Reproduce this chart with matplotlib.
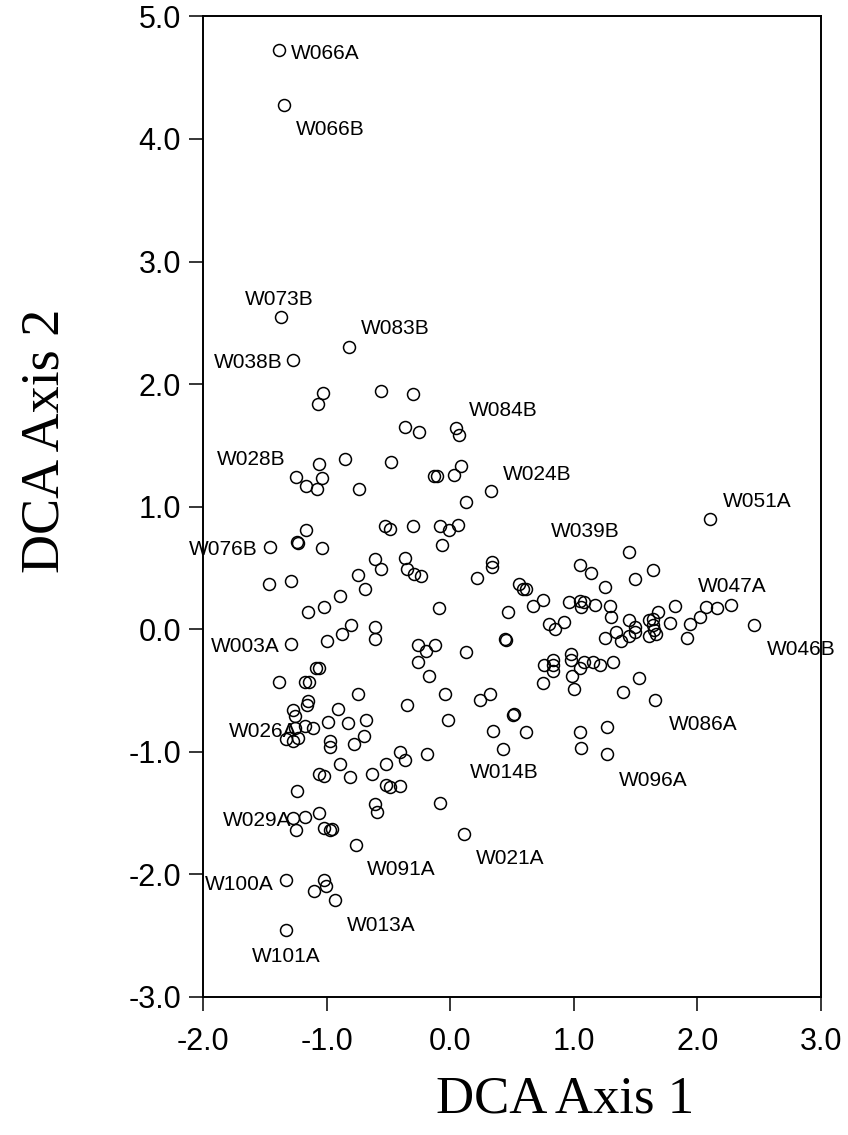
import numpy as np
import matplotlib
matplotlib.use('Agg')
import matplotlib.pyplot as plt

# DCA sample scores (axis 1, axis 2)
axis1 = [-1.39, -1.35, -1.37, -0.82, -1.27, -1.03, -1.07, -0.56, -0.30, -0.37,
         -0.25, 0.05, 0.07, -1.06, -0.85, -0.48, -1.25, -1.04, -1.17, -1.08,
         -0.74, -0.13, -0.11, 0.03, 0.09, 0.33, 0.13, -1.17, -1.24, -1.23,
         -1.46, -1.04, -0.53, -0.49, -0.30, -0.08, -0.01, 0.06, -0.07, -0.61,
         -0.56, -0.37, -0.35, -0.29, -0.24, 0.34, 0.34, 0.22, -1.47, -1.29,
         -0.75, -0.69, -0.89, -1.15, -1.02, -0.09, 0.47, -1.29, -1.00, -0.88,
         -0.80, -0.61, -0.61, -0.26, -0.20, -0.12, 0.13, 0.44, 0.45, -0.26,
         -0.17, -1.09, -1.06, -1.39, -1.18, -1.14, -0.75, -0.04, 0.24, 0.32,
         0.51, 0.35, 0.43, -1.15, -1.16, -1.27, -1.26, -0.91, -0.68, -0.35,
         -0.02, -0.99, -0.83, -1.18, -1.11, -1.26, -1.33, -1.27, -1.23, -0.70,
         -0.97, -0.97, -0.78, -0.41, -0.37, -0.19, -0.52, -0.89, -0.63, -1.06,
         -1.02, -0.81, -0.52, -0.49, -0.41, -1.24, -0.08, -0.61, -0.59, -1.27,
         -1.18, -1.06, -1.25, -1.02, -0.97, -0.96, -0.76, 0.11, -1.33, -1.02,
         -1.01, -1.10, -0.93, -1.33,
         2.10, 1.45, 1.05, 1.14, 1.64, 1.50, 1.25, 0.56, 0.59, 0.61,
         0.75, 0.67, 0.96, 1.05, 1.08, 1.06, 1.17, 1.29, 1.30, 0.80,
         0.85, 0.92, 1.25, 1.34, 1.38, 1.45, 1.45, 1.50, 1.50, 1.61,
         1.64, 1.64, 1.65, 1.61, 1.67, 1.68, 1.78, 1.82, 1.94, 1.92,
         2.02, 2.07, 2.16, 2.27, 2.46, 0.98, 0.98, 0.83, 0.83, 0.83,
         0.76, 1.05, 1.08, 1.16, 1.21, 1.32, 0.99, 0.75, 1.00, 1.40,
         1.53, 1.66, 0.52, 0.61, 1.05, 1.06, 1.27, 1.27]
axis2 = [4.73, 4.28, 2.55, 2.30, 2.20, 1.93, 1.84, 1.94, 1.92, 1.65,
         1.61, 1.64, 1.58, 1.35, 1.39, 1.36, 1.24, 1.23, 1.17, 1.14,
         1.14, 1.25, 1.25, 1.26, 1.33, 1.13, 1.04, 0.81, 0.71, 0.70,
         0.67, 0.66, 0.84, 0.82, 0.84, 0.84, 0.81, 0.85, 0.69, 0.57,
         0.49, 0.58, 0.49, 0.45, 0.43, 0.55, 0.51, 0.42, 0.37, 0.39,
         0.44, 0.33, 0.27, 0.14, 0.18, 0.17, 0.14, -0.12, -0.10, -0.04,
         0.03, 0.02, -0.08, -0.13, -0.18, -0.13, -0.19, -0.08, -0.09, -0.27,
         -0.38, -0.32, -0.32, -0.43, -0.43, -0.43, -0.53, -0.53, -0.58, -0.53,
         -0.70, -0.83, -0.98, -0.59, -0.62, -0.66, -0.71, -0.65, -0.74, -0.62,
         -0.74, -0.76, -0.77, -0.79, -0.81, -0.81, -0.90, -0.91, -0.89, -0.87,
         -0.91, -0.96, -0.94, -1.00, -1.07, -1.02, -1.10, -1.10, -1.18, -1.18,
         -1.20, -1.21, -1.27, -1.29, -1.28, -1.32, -1.42, -1.43, -1.49, -1.54,
         -1.53, -1.50, -1.64, -1.62, -1.64, -1.63, -1.76, -1.67, -2.05, -2.05,
         -2.10, -2.14, -2.21, -2.46,
         0.90, 0.63, 0.52, 0.46, 0.48, 0.41, 0.34, 0.37, 0.33, 0.33,
         0.24, 0.19, 0.22, 0.23, 0.22, 0.18, 0.20, 0.19, 0.10, 0.04,
         0.00, 0.06, -0.07, -0.02, -0.10, 0.07, -0.06, 0.02, -0.02, 0.07,
         0.08, 0.03, -0.01, -0.06, -0.04, 0.14, 0.05, 0.19, 0.04, -0.07,
         0.10, 0.18, 0.17, 0.20, 0.03, -0.20, -0.25, -0.25, -0.29, -0.34,
         -0.29, -0.32, -0.27, -0.27, -0.29, -0.27, -0.38, -0.44, -0.49, -0.51,
         -0.40, -0.58, -0.69, -0.84, -0.84, -0.97, -0.80, -1.02]

# labelled samples -> position in the score arrays
labelled = {'W066A': 0, 'W066B': 1, 'W073B': 2, 'W083B': 3, 'W038B': 4,
            'W084B': 11, 'W028B': 16, 'W024B': 25, 'W076B': 30, 'W003A': 57,
            'W014B': 82, 'W026A': 95, 'W029A': 119, 'W091A': 126, 'W021A': 127,
            'W100A': 128, 'W013A': 132, 'W101A': 133, 'W051A': 134, 'W039B': 136,
            'W047A': 177, 'W046B': 178, 'W086A': 195, 'W096A': 201}

# label placement (pixel offset from the point, horizontal alignment)
label_pos = {'W066A': (12, -4, 'left'), 'W066B': (12, -25, 'left'),
             'W073B': (-36, 17, 'left'), 'W083B': (12, 19, 'left'),
             'W038B': (-11, -3, 'right'), 'W084B': (12, 18, 'left'),
             'W028B': (-10, 18, 'right'), 'W024B': (12, 16, 'left'),
             'W076B': (-12, -3, 'right'), 'W003A': (-11, -3, 'right'),
             'W014B': (-33, -23, 'left'), 'W026A': (3, -3, 'right'),
             'W029A': (-2, -3, 'right'), 'W091A': (11, -25, 'left'),
             'W021A': (12, -25, 'left'), 'W100A': (-12, -4, 'right'),
             'W013A': (12, -26, 'left'), 'W101A': (0, -26, 'center'),
             'W051A': (13, 17, 'left'), 'W039B': (-29, 34, 'left'),
             'W047A': (-33, 18, 'left'), 'W046B': (13, -24, 'left'),
             'W086A': (14, -24, 'left'), 'W096A': (12, -26, 'left')}

sans = 'Liberation Sans'
serif = 'Liberation Serif'

fig = plt.figure(figsize=(8.48, 11.35), dpi=100)
ax = fig.add_axes([0.2397, 0.1219, 0.7281, 0.8636])

ax.plot(axis1, axis2, linestyle='none', marker='o', markersize=8.6,
        markerfacecolor='none', markeredgecolor='black', markeredgewidth=1.1,
        clip_on=False)

for name, i in labelled.items():
    dx, dy, ha = label_pos[name]
    ax.annotate(name, (axis1[i], axis2[i]), xytext=(dx, dy),
                textcoords='offset pixels', ha=ha, va='center',
                fontsize=15, family=sans)

ax.set_xlim(-2, 3)
ax.set_ylim(-3, 5)
ax.set_xticks(np.arange(-2, 3.1, 1.0))
ax.set_yticks(np.arange(-3, 5.1, 1.0))
ax.set_xticklabels(['%.1f' % v for v in np.arange(-2, 3.1, 1.0)])
ax.set_yticklabels(['%.1f' % v for v in np.arange(-3, 5.1, 1.0)])
ax.tick_params(direction='out', length=10, width=1.1, pad=6,
               labelsize=22, top=False, right=False)
ax.tick_params(axis='x', pad=12)
for lab in ax.get_xticklabels() + ax.get_yticklabels():
    lab.set_family(sans)
for sp in ax.spines.values():
    sp.set_linewidth(1.4)

ax.set_xlabel('DCA Axis 1', family=serif, fontsize=38)
ax.set_ylabel('DCA Axis 2', family=serif, fontsize=39)
ax.xaxis.set_label_coords(0.586, -0.105)
ax.yaxis.set_label_coords(-0.256, 0.567)
ax.xaxis.label.set_va('center')
ax.yaxis.label.set_va('center')

fig.savefig('out.png', dpi=100)
